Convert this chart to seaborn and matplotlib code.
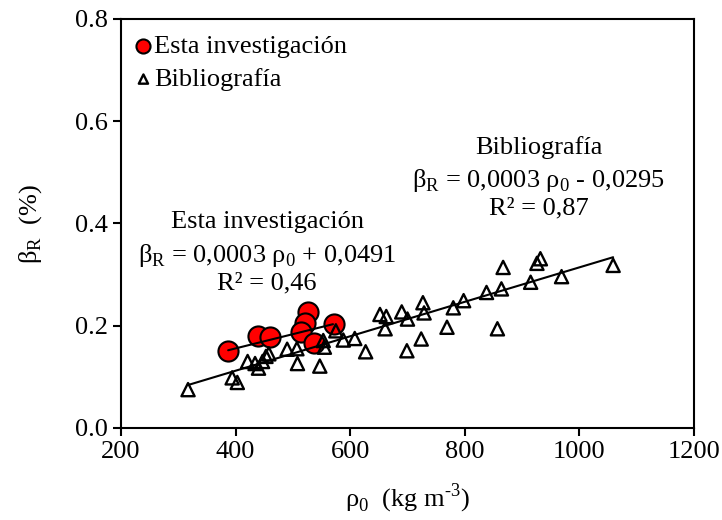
import numpy as np
import pandas as pd
import seaborn as sns
import matplotlib.pyplot as plt

# Data
esta_rho = [387, 439, 460, 527, 521, 515, 536, 572]
esta_beta = [0.151, 0.180, 0.177, 0.226, 0.206, 0.187, 0.167, 0.204]

biblio_rho = [317, 394, 403, 421, 434, 440, 447, 453, 458, 490,
              507, 508, 547, 553, 555, 575, 588, 608, 627, 652,
              663, 661, 690, 700, 699, 724, 727, 729, 769, 780,
              798, 838, 857, 864, 867, 915, 926, 932, 969, 1059]
biblio_beta = [0.075, 0.098, 0.089, 0.130, 0.126, 0.117, 0.130, 0.140, 0.145, 0.154,
               0.155, 0.126, 0.121, 0.171, 0.158, 0.190, 0.172, 0.175, 0.149, 0.222,
               0.218, 0.194, 0.227, 0.213, 0.151, 0.174, 0.245, 0.225, 0.197, 0.235,
               0.249, 0.265, 0.194, 0.272, 0.314, 0.285, 0.322, 0.331, 0.296, 0.318]

# trend line end points
esta_fit_rho = [387, 570]
esta_fit_beta = [0.152, 0.203]
biblio_fit_rho = [317, 1059]
biblio_fit_beta = [0.084, 0.334]

sns.set_style("ticks")
plt.rcParams['font.family'] = ['Liberation Serif', 'DejaVu Serif']
plt.rcParams['mathtext.fontset'] = 'custom'
plt.rcParams['mathtext.rm'] = 'Liberation Serif'
plt.rcParams['axes.linewidth'] = 1.5
plt.rcParams['text.color'] = 'black'
plt.rcParams['axes.labelcolor'] = 'black'
plt.rcParams['xtick.color'] = 'black'
plt.rcParams['ytick.color'] = 'black'

fs = 19

fig = plt.figure(figsize=(7.22, 5.2), dpi=100)
ax = fig.add_axes([0.1676, 0.177, 0.7935, 0.7865])

sns.scatterplot(x=esta_rho, y=esta_beta, color="#ff0000", edgecolor="black",
                linewidth=1.5, s=210, marker="o", zorder=3, ax=ax,
                label="Esta investigación")
sns.scatterplot(x=biblio_rho, y=biblio_beta, facecolor="none", edgecolor="black",
                linewidth=1.7, s=90, marker="^", zorder=4, ax=ax,
                label="Bibliografía")
sns.lineplot(x=esta_fit_rho, y=esta_fit_beta, color="black", linewidth=1.5,
             zorder=5, ax=ax)
sns.lineplot(x=biblio_fit_rho, y=biblio_fit_beta, color="black", linewidth=1.5,
             zorder=5, ax=ax)

ax.set_xlim(200, 1200)
ax.set_ylim(0, 0.8)
ax.set_xticks([200, 400, 600, 800, 1000, 1200])
ax.set_yticks([0.0, 0.2, 0.4, 0.6, 0.8])
ax.set_yticklabels(["0.0", "0.2", "0.4", "0.6", "0.8"])
ax.tick_params(labelsize=fs, length=6, width=1.5, color="black", direction="out")
for sp in ax.spines.values():
    sp.set_visible(True)
    sp.set_color("black")

# hyphen (not minus) in the exponent, as in the original
ax.set_xlabel("ρ$_\\mathregular{0}$  (kg m$^\\mathregular{\u20103}$)",
              fontsize=fs, labelpad=13)
ax.set_ylabel(r"β$_\mathregular{R}$  (%)", fontsize=fs, labelpad=22)

# equations
ax.text(929, 0.549, "Bibliografía", fontsize=fs, ha="center", va="center")
ax.text(929, 0.484, r"β$_\mathregular{R}$ = 0,0003 ρ$_\mathregular{0}$ - 0,0295",
        fontsize=fs, ha="center", va="center")
ax.text(929, 0.429, "R² = 0,87", fontsize=fs, ha="center", va="center")
ax.text(455, 0.402, "Esta investigación", fontsize=fs, ha="center", va="center")
ax.text(455, 0.337, r"β$_\mathregular{R}$ = 0,0003 ρ$_\mathregular{0}$ + 0,0491",
        fontsize=fs, ha="center", va="center")
ax.text(455, 0.282, "R² = 0,46", fontsize=fs, ha="center", va="center")

ax.legend(loc="upper left", frameon=False, fontsize=fs, markerscale=0.7,
          handlelength=0.5, handletextpad=0.15, labelspacing=0.35,
          borderaxespad=0.2, bbox_to_anchor=(0.0, 1.0))

plt.savefig("out.png", dpi=100)
